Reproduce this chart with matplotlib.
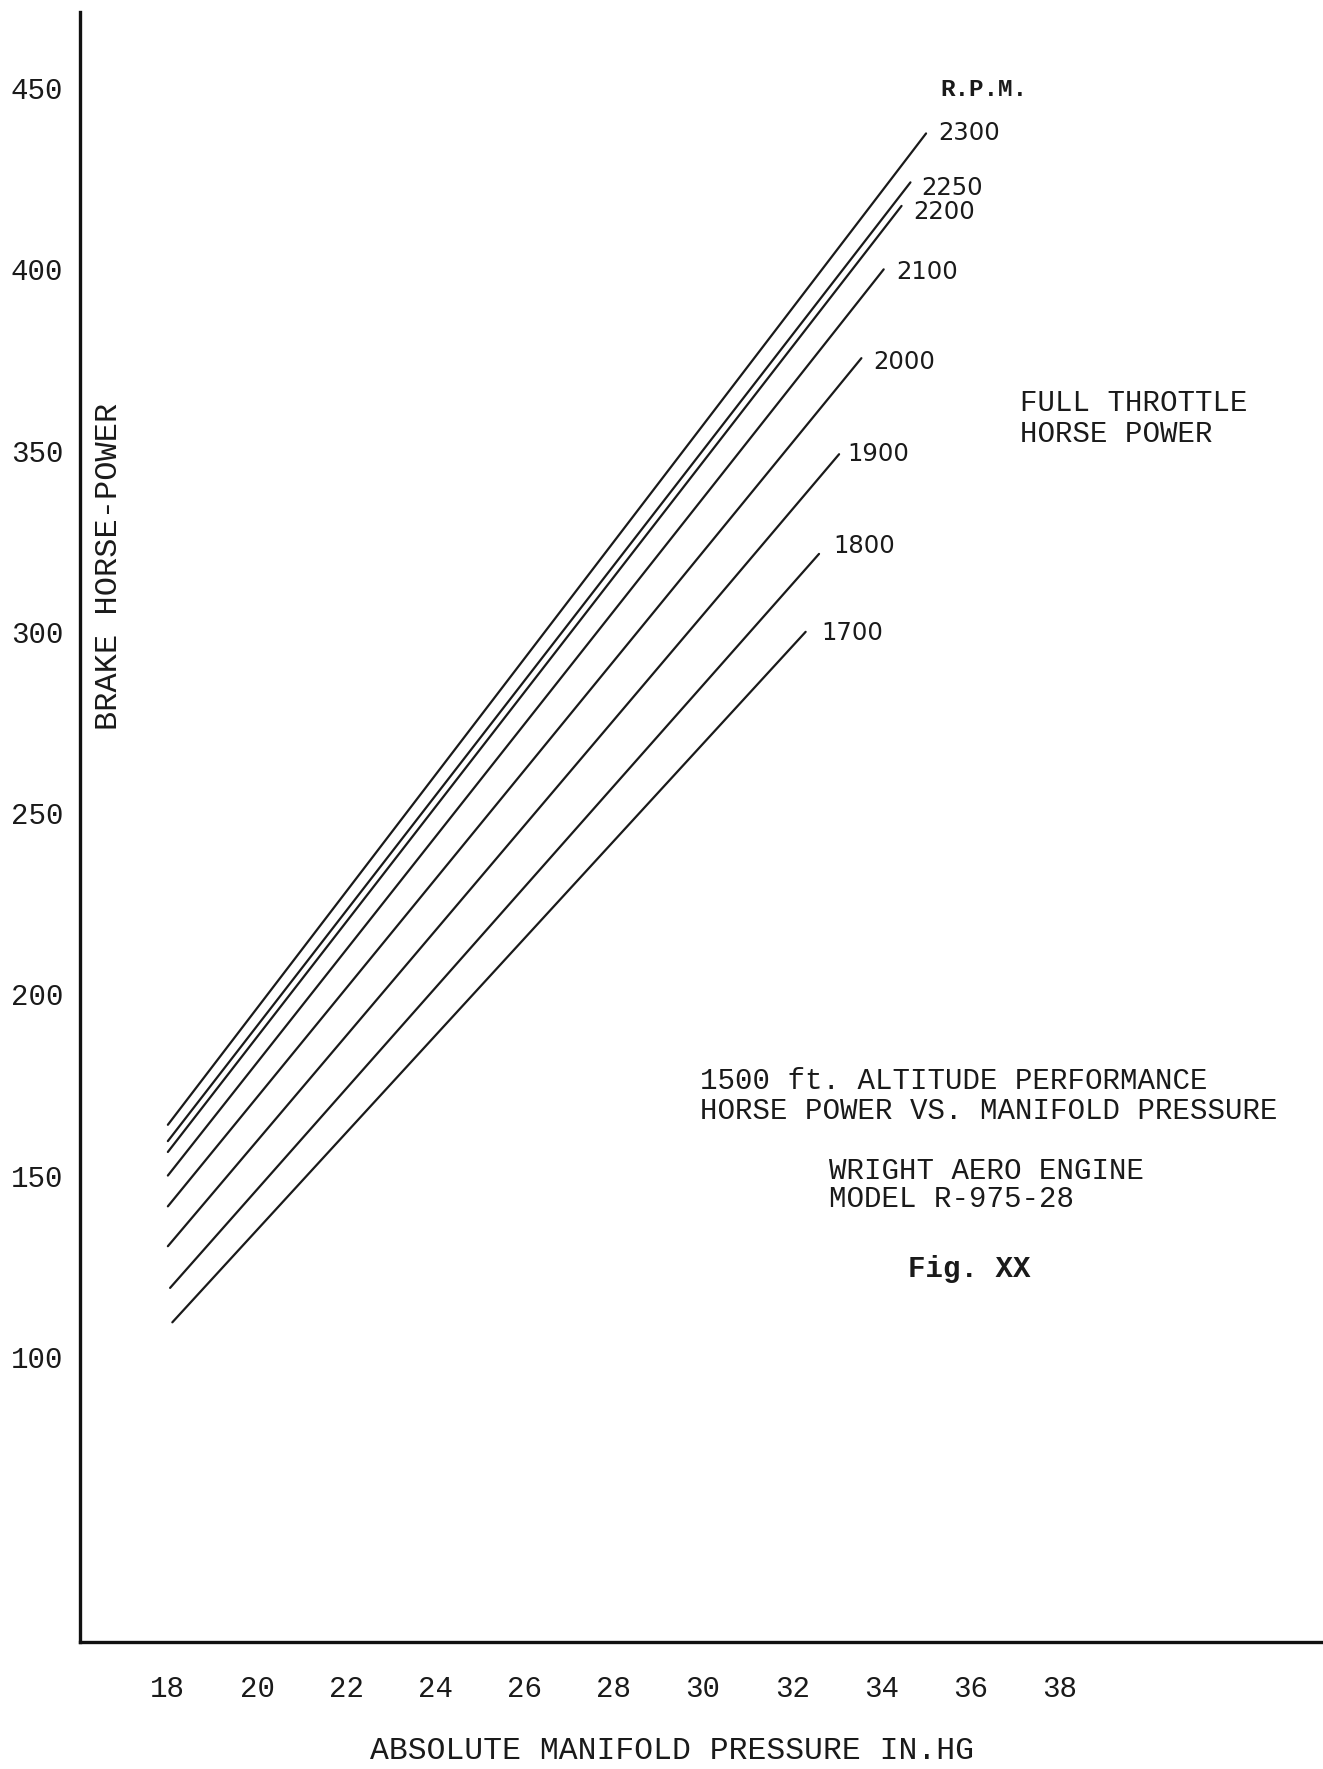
import matplotlib
matplotlib.use("Agg")
import matplotlib.pyplot as plt

# ---- data ----
rpm = [2300, 2250, 2200, 2100, 2000, 1900, 1800, 1700]
p_start = [18, 18, 18, 18, 18, 18, 18.05, 18.1]
hp_start = [164, 159.5, 156.5, 150, 141.5, 130.5, 119, 109.5]
p_end = [35.0, 34.65, 34.45, 34.05, 33.55, 33.05, 32.6, 32.3]
hp_end = [437.5, 424, 417.5, 400, 375.5, 349, 321.5, 300]

x_ticks = [18, 20, 22, 24, 26, 28, 30, 32, 34, 36, 38]
y_ticks = [100, 150, 200, 250, 300, 350, 400, 450]

# label placement offsets (pixels) next to each line end
label_dx = [12, 11, 12, 13, 12, 8, 14, 16]
label_dy = [0, -6, -6, -3, -4, 0, 8, -1]

W, H = 1323, 1769
fig = plt.figure(figsize=(W / 100, H / 100), dpi=100)
fig.patch.set_facecolor("white")

def px(x, y):
    return x / W, 1 - y / H

bottom_px = 1642
ax = fig.add_axes([80 / W, (H - bottom_px) / H, 1 - 80 / W, (bottom_px - 12) / H])
ax.set_xlim(16.03, 43.9)
ax.set_ylim(450 - (bottom_px - 88) / 3.625, 471.0)

mono = "Liberation Mono"
ink = "#1a1a1a"

for r, x0, y0, x1, y1, dx, dy in zip(rpm, p_start, hp_start, p_end, hp_end,
                                     label_dx, label_dy):
    ax.plot([x0, x1], [y0, y1], color=ink, lw=1.6, solid_capstyle="round")
    ax.annotate(str(r), xy=(x1, y1), xytext=(dx, dy), textcoords="offset pixels",
                ha="left", va="center", fontsize=17.5, family="DejaVu Sans",
                color=ink)

for s in ["top", "right"]:
    ax.spines[s].set_visible(False)
for s in ["left", "bottom"]:
    ax.spines[s].set_linewidth(2.4)
    ax.spines[s].set_color("#111111")

ax.set_xticks(x_ticks)
ax.set_yticks(y_ticks)
ax.set_xticklabels([str(v) for v in x_ticks], family=mono, fontsize=21, color=ink)
ax.set_yticklabels([str(v) for v in y_ticks], family=mono, fontsize=21, color=ink)
ax.tick_params(axis="both", length=0)
ax.tick_params(axis="y", pad=12)
ax.tick_params(axis="x", pad=24)

ax.set_xlabel("ABSOLUTE MANIFOLD PRESSURE IN.HG", family=mono, fontsize=22.6,
              color=ink, va="center")
ax.xaxis.set_label_coords((672 - 80) / 1243, -(1751 - bottom_px) / (bottom_px - 12))
ax.set_ylabel("BRAKE HORSE-POWER", family=mono, fontsize=23, color=ink,
              va="center", ha="center")
ax.yaxis.set_label_coords((109 - 80) / 1243, (bottom_px - 566) / (bottom_px - 12))

def txt(x, y, s, **kw):
    fx, fy = px(x, y)
    fig.text(fx, fy, s, family=mono, color=ink, va="center", **kw)

txt(940, 90, "R.P.M.", fontsize=17.5, fontweight="bold")
txt(1020, 403, "FULL THROTTLE", fontsize=21)
txt(1020, 434, "HORSE POWER", fontsize=21)
txt(700, 1081, "1500 ft. ALTITUDE PERFORMANCE", fontsize=21)
txt(700, 1111, "HORSE POWER VS. MANIFOLD PRESSURE", fontsize=21)
txt(829, 1171, "WRIGHT AERO ENGINE", fontsize=21)
txt(829, 1199, "MODEL R-975-28", fontsize=21)
txt(908, 1269, "Fig. XX", fontsize=21, fontweight="bold")

fig.savefig("out.png", dpi=100, facecolor="white")
